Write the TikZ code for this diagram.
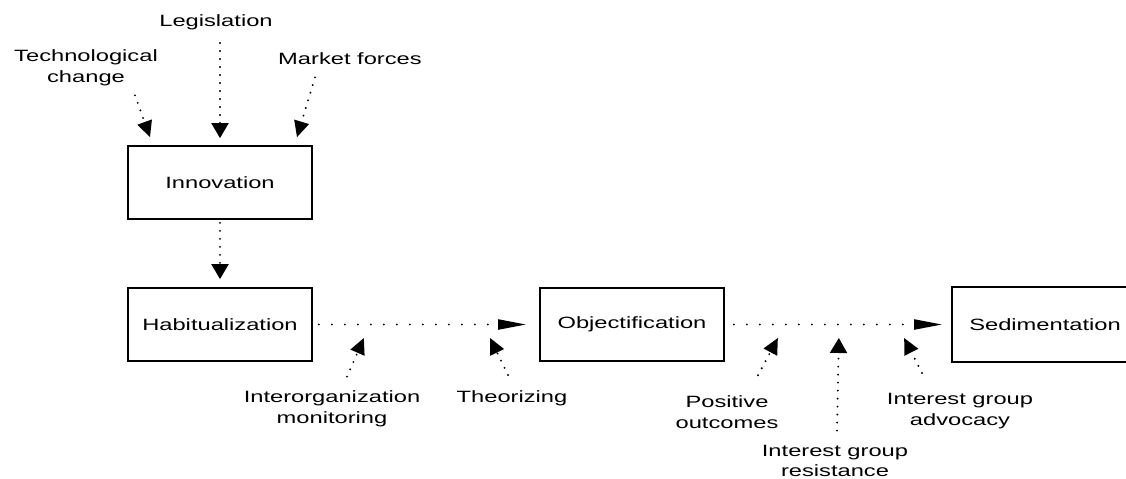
\documentclass[tikz,border=0pt]{standalone}
\usepackage{fontspec}
\setmainfont{Liberation Sans}[FakeStretch=1.45]
\usetikzlibrary{arrows.meta}

\begin{document}
\begin{tikzpicture}[x=0.02cm,y=-0.02cm,
		font=\fontsize{9.3}{11.8}\selectfont,
		stage/.style={shape=rectangle,draw=black,line width=1pt,minimum width=3.68cm,minimum height=1.46cm,inner sep=0pt},
		lbl/.style={align=center,inner sep=0pt},
		dotv/.style={line width=1.2pt,line cap=round,dash pattern=on 0pt off 0.16cm},
		doth/.style={line width=1.2pt,line cap=round,dash pattern=on 0pt off 0.26cm},
		tipv/.style={-{Triangle[length=0.3cm,width=0.34cm]}},
		tiph/.style={-{Triangle[length=0.56cm,width=0.2cm]}},
		tipd/.style={-{Triangle[length=0.32cm,width=0.3cm]}}]
		\useasboundingbox (0,0) rectangle (1126,478);
		% the four stages
		\node [stage] (innov) at (220,182.5) {Innovation};
		\node [stage] (habit) at (220,324.5) {Habitualization};
		\node [stage] (obj) at (632,324.5) {Objectification};
		\node [stage,draw=none] (sed) at (1045,324.5) {Sedimentation};
		% sedimentation box runs off the right edge
		\draw [line width=1pt] ([xshift=40]sed.north east) -- (sed.north west) -- (sed.south west) -- ([xshift=40]sed.south east);
		% forces
		\node [lbl] (tech) at (86,68) {Technological\\change};
		\node [lbl] (legis) at (216,22) {Legislation};
		\node [lbl] (market) at (350,59) {Market forces};
		\node [lbl] (inter) at (332,409) {Interorganization\\monitoring};
		\node [lbl] (theor) at (512,398) {Theorizing};
		\node [lbl] (pos) at (727,412) {Positive\\outcomes};
		\node [lbl] (resist) at (835,461) {Interest group\\resistance};
		\node [lbl] (advoc) at (960,411) {Interest group\\advocacy};
		% arrows into innovation
		\draw [dotv,tipd] ([shift={(49,9)}]tech.south) -- ([shift={(-70,-8)}]innov.north);
		\draw [dotv,tipv] ([shift={(4,13)}]legis.south) -- ([shift={(0,-7)}]innov.north);
		\draw [dotv,tipd] ([shift={(-35,12)}]market.south) -- ([shift={(77,-8)}]innov.north);
		% main sequence
		\draw [dotv,tipv] ([shift={(0,3)}]innov.south) -- ([shift={(0,-8)}]habit.north);
		\draw [doth,tiph] ([shift={(6,0)}]habit.east) -- ([shift={(-13,0)}]obj.west);
		\draw [doth,tiph] ([shift={(9,0)}]obj.east) -- ([shift={(-10,0)}]sed.west);
		% arrows from below
		\draw [dotv,tipd] ([shift={(15,-14)}]inter.north) -- ([shift={(51,13.5)}]habit.east);
		\draw [dotv,tipd] ([shift={(-4,-15)}]theor.north) -- ([shift={(-49,13.5)}]obj.west);
		\draw [dotv,tipd] ([shift={(31,-20)}]pos.north) -- ([shift={(53,13.5)}]obj.east);
		\draw [dotv,tipv] ([shift={(2,-14)}]resist.north) -- ([shift={(114,13.5)}]obj.east);
		\draw [dotv,tipd] ([shift={(-38,-20)}]advoc.north) -- ([shift={(-48,13.5)}]sed.west);
	\end{tikzpicture}
\end{document}
